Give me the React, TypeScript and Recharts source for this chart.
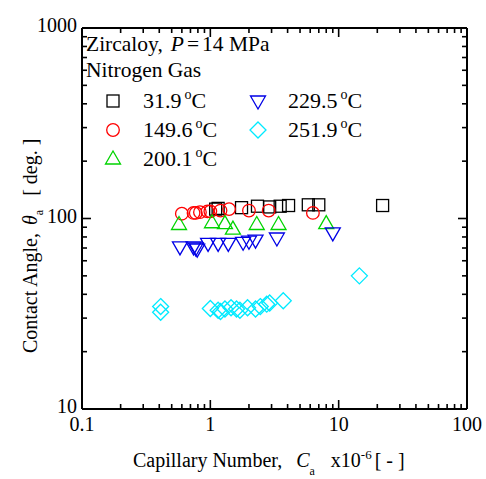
import React from "react";
import { ScatterChart, Scatter, XAxis, YAxis } from "recharts";

// Capillary number (x10^-6) and advancing contact angle (deg.) per temperature
const ca319 = [1.1, 1.15, 1.75, 2.33, 2.9, 3.5, 4.07, 5.8, 7.0, 22];
const theta319 = [112, 113, 114, 116, 115, 116, 117, 118, 118, 117];

const ca1496 = [0.6, 0.74, 0.77, 0.83, 0.95, 1.0, 1.2, 1.4, 2.0, 2.85, 6.3];
const theta1496 = [106, 107, 107, 108, 109, 109, 110, 112, 110, 110, 107];

const ca2001 = [0.57, 1.03, 1.3, 1.5, 2.3, 3.4, 8.0];
const theta2001 = [93, 95, 94, 88, 93, 93, 94];

const ca2295 = [0.58, 0.74, 0.77, 0.79, 0.96, 1.15, 1.38, 1.8, 2.0, 2.25, 3.3, 9.0];
const theta2295 = [71, 71, 70, 69, 74, 74, 74, 75, 76, 77, 79, 84];

const ca2519 = [0.41, 0.41, 1.0, 1.15, 1.2, 1.3, 1.45, 1.6, 1.7, 1.95, 2.25, 2.45, 2.75, 2.9, 3.7, 14.5];
const theta2519 = [34.5, 32.2, 33.7, 33, 32.5, 33.5, 34, 33.5, 33, 34, 33.5, 34.5, 35.5, 36, 37, 50];

const temps = ["31.9", "149.6", "200.1", "229.5", "251.9"];

const xMajor = [0.1, 1, 10, 100];
const yMajor = [10, 100, 1000];
const minorSteps = [2, 3, 4, 5, 6, 7, 8, 9];

const withMinor = (majors: number[]) => {
  const out: number[] = [];
  majors.forEach((m, i) => {
    out.push(m);
    if (i < majors.length - 1) minorSteps.forEach((s) => out.push(m * s));
  });
  return out;
};
const xTicks = withMinor(xMajor);
const yTicks = withMinor(yMajor);

const toPoints = (xs: number[], ys: number[]) => xs.map((x, i) => ({ x, y: ys[i] }));

type ShapeKind = "square" | "circle" | "up" | "down" | "diamond";

const series: { name: string; color: string; shape: ShapeKind; data: { x: number; y: number }[] }[] = [
  { name: temps[0], color: "#000000", shape: "square", data: toPoints(ca319, theta319) },
  { name: temps[1], color: "#ff0000", shape: "circle", data: toPoints(ca1496, theta1496) },
  { name: temps[2], color: "#00d400", shape: "up", data: toPoints(ca2001, theta2001) },
  { name: temps[3], color: "#0000e6", shape: "down", data: toPoints(ca2295, theta2295) },
  { name: temps[4], color: "#00eaff", shape: "diamond", data: toPoints(ca2519, theta2519) },
];

const FONT = "'Liberation Serif', 'Times New Roman', serif";

const Marker = ({ kind, cx, cy, color }: { kind: ShapeKind; cx: number; cy: number; color: string }) => {
  const common = { fill: "none", stroke: color, strokeWidth: 1.3 };
  switch (kind) {
    case "square":
      return <rect x={cx - 6} y={cy - 6} width={12} height={12} {...common} />;
    case "circle":
      return <circle cx={cx} cy={cy} r={6.3} {...common} />;
    case "up":
      return <polygon points={`${cx},${cy - 8} ${cx - 7.5},${cy + 5} ${cx + 7.5},${cy + 5}`} {...common} />;
    case "down":
      return <polygon points={`${cx - 7.5},${cy - 5} ${cx + 7.5},${cy - 5} ${cx},${cy + 8}`} {...common} />;
    default:
      return <polygon points={`${cx},${cy - 8} ${cx + 8},${cy} ${cx},${cy + 8} ${cx - 8},${cy}`} {...common} />;
  }
};

const isMajor = (v: number) => Math.abs(Math.log10(v) - Math.round(Math.log10(v))) < 1e-6;

// inward ticks; labels only on the bottom and left axes
const makeTick = (side: "bottom" | "top" | "left" | "right") => (props: any) => {
  const { x, y, payload } = props;
  const v = payload.value;
  const len = isMajor(v) ? 9 : 5;
  const line =
    side === "bottom" ? <line x1={x} x2={x} y1={y} y2={y - len} /> :
    side === "top" ? <line x1={x} x2={x} y1={y} y2={y + len} /> :
    side === "left" ? <line x1={x} x2={x + len} y1={y} y2={y} /> :
    <line x1={x} x2={x - len} y1={y} y2={y} />;
  return (
    <g stroke="#000" strokeWidth={1.6}>
      {line}
      {side === "bottom" && isMajor(v) && (
        <text x={x} y={y + 22} textAnchor="middle" fontSize={20} fontFamily={FONT} fill="#000" stroke="none">
          {String(v)}
        </text>
      )}
      {side === "left" && isMajor(v) && (
        <text x={x - 5} y={y + 4} textAnchor="end" fontSize={20} fontFamily={FONT} fill="#000" stroke="none">
          {String(v)}
        </text>
      )}
    </g>
  );
};

const axisLine = { stroke: "#000", strokeWidth: 2 };

const legendRows = [
  { idx: 0, x: 113, y: 101 },
  { idx: 1, x: 113, y: 130 },
  { idx: 2, x: 113, y: 159 },
  { idx: 3, x: 258, y: 101 },
  { idx: 4, x: 258, y: 130 },
];

export default function App() {
  return (
    <div style={{ position: "absolute", left: 0, top: 0, width: 486, height: 479, background: "#fff", fontFamily: FONT }}>
      <ScatterChart width={486} height={479} margin={{ top: 18, right: 9, bottom: 30, left: 2 }}>
        <XAxis
          xAxisId="b"
          dataKey="x"
          type="number"
          scale="log"
          domain={[0.1, 100]}
          allowDataOverflow
          ticks={xTicks}
          interval={0}
          tickSize={0}
          tickMargin={0}
          tickLine={false}
          axisLine={axisLine}
          tick={makeTick("bottom")}
          height={40}
        />
        <XAxis
          xAxisId="t"
          orientation="top"
          dataKey="x"
          type="number"
          scale="log"
          domain={[0.1, 100]}
          allowDataOverflow
          ticks={xTicks}
          interval={0}
          tickSize={0}
          tickMargin={0}
          tickLine={false}
          axisLine={axisLine}
          tick={makeTick("top")}
          height={10}
        />
        <YAxis
          yAxisId="l"
          dataKey="y"
          type="number"
          scale="log"
          domain={[10, 1000]}
          allowDataOverflow
          ticks={yTicks}
          interval={0}
          tickSize={0}
          tickMargin={0}
          tickLine={false}
          axisLine={axisLine}
          tick={makeTick("left")}
          width={80}
        />
        <YAxis
          yAxisId="r"
          orientation="right"
          dataKey="y"
          type="number"
          scale="log"
          domain={[10, 1000]}
          allowDataOverflow
          ticks={yTicks}
          interval={0}
          tickSize={0}
          tickMargin={0}
          tickLine={false}
          axisLine={axisLine}
          tick={makeTick("right")}
          width={10}
        />
        {series.map((s) => (
          <Scatter
            key={s.name}
            name={s.name}
            data={s.data}
            xAxisId="b"
            yAxisId="l"
            isAnimationActive={false}
            shape={(p: any) => <Marker kind={s.shape} cx={p.cx} cy={p.cy} color={s.color} />}
          />
        ))}
      </ScatterChart>

      <svg width={486} height={479} style={{ position: "absolute", left: 0, top: 0, pointerEvents: "none" }}>
        <g fontFamily={FONT} fill="#000">
          <text x={86} y={51} fontSize={21.5}>
            Zircaloy,<tspan dx={8} fontStyle="italic">P</tspan>
            <tspan dx={3}>=</tspan>
            <tspan dx={3}>14 MPa</tspan>
          </text>
          <text x={86} y={77} fontSize={21.5}>Nitrogen Gas</text>
          {legendRows.map((r) => {
            const s = series[r.idx];
            return (
              <g key={s.name}>
                <Marker kind={s.shape} cx={r.x} cy={r.y} color={s.color} />
                <text x={r.x + 30} y={r.y + 7} fontSize={22}>
                  {s.name}
                  <tspan dx={3} fontSize={14} dy={-9}>o</tspan>
                  <tspan dy={9}>C</tspan>
                </text>
              </g>
            );
          })}

          {/* axis titles */}
          <text x={133} y={467} fontSize={20}>
            Capillary Number,<tspan dx={14} fontStyle="italic">C</tspan>
            <tspan fontSize={12} dy={8}>a</tspan>
            <tspan dx={16} dy={-8}>x10</tspan>
            <tspan fontSize={13} dy={-8}>-6</tspan>
            <tspan dx={3} dy={8}>[ - ]</tspan>
          </text>
          <text x={37} y={353} fontSize={20} transform="rotate(-90 37 353)">
            Contact Angle,<tspan dx={8} fontStyle="italic">θ</tspan>
            <tspan fontSize={12} dy={6}>a</tspan>
            <tspan dx={14} dy={-6}>[ deg. ]</tspan>
          </text>
        </g>
      </svg>
    </div>
  );
}
